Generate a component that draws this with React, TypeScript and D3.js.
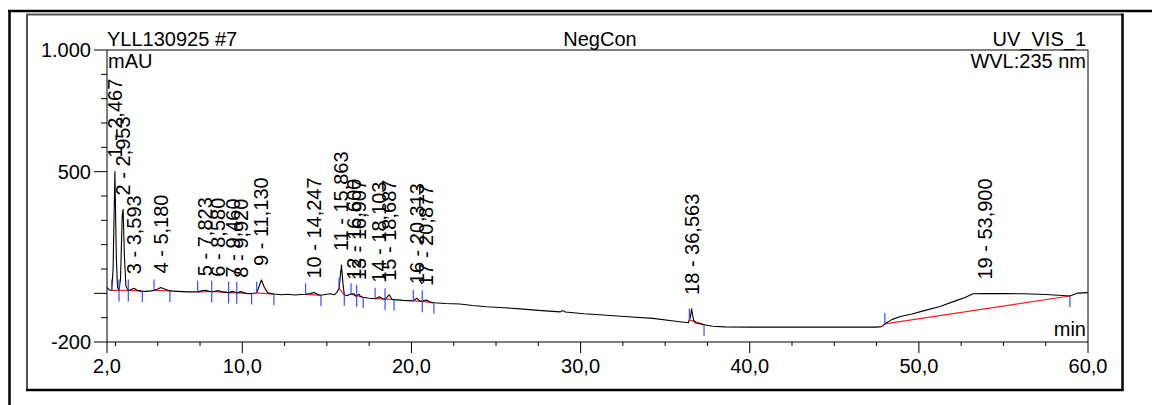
import React from 'react';
import * as d3 from 'd3';

// ---- chromatogram trace (time in min, signal in mAU) ----
const traceTimes = [
  2.0, 2.05, 2.15, 2.28, 2.36, 2.467, 2.55, 2.62, 2.71, 2.8, 2.9, 2.953, 3.03, 3.12, 3.26,
  3.45, 3.593, 3.75, 4.0, 4.3, 4.6, 4.78, 5.0, 5.18, 5.4, 5.72, 6.2, 6.8, 7.36, 7.6, 7.823,
  8.05, 8.3, 8.58, 8.85, 9.19, 9.46, 9.67, 9.92, 10.2, 10.55, 10.85, 11.0, 11.13, 11.3, 11.5,
  11.87, 12.3, 12.7, 13.1, 13.5, 13.74, 14.0, 14.247, 14.5, 14.65, 14.9, 15.2, 15.45, 15.6,
  15.72, 15.863, 15.95, 16.03, 16.2, 16.35, 16.6, 16.7, 16.907, 17.0, 17.15, 17.5, 17.85,
  18.103, 18.3, 18.44, 18.687, 18.85, 18.97, 19.5, 20.11, 20.313, 20.5, 20.64, 20.877, 21.1,
  21.33, 22.0, 22.87, 23.6, 24.45, 25.5, 26.42, 27.5, 28.8, 28.96, 29.1, 30.2, 31.33, 32.8,
  34.28, 35.5, 36.37, 36.5, 36.563, 36.68, 36.8, 37.25, 37.8, 38.5, 40.0, 44.0, 47.5, 47.8,
  48.0, 48.4, 48.9, 49.6, 50.26, 51.25, 52.2, 52.7, 53.2, 53.9, 55.0, 56.2, 57.5, 58.5, 58.93,
  59.4, 60.0,
];
const traceValues = [
  25, 20, 14, 12, 100, 500, 150, 25, 12, 60, 320, 345, 150, 30, 12,
  16, 21, 14, 9, 8, 10, 12, 18, 24, 18, 10, 8, 6, 6, 10, 13,
  8, 7, 11, 6, 3, 8, 2, 7, 0, -1, 2, 30, 55, 25, 2,
  -3, -6, -4, -7, -5, -4, -1, 3, -6, -8, -5, -2, -6, 5,
  20, 116, 40, -6, -10, -4, -2, -12, -4, -14, -16, -20, -22,
  -14, -22, -24, -6, -24, -26, -29, -31, -20, -32, -33, -27, -36,
  -39, -42, -44, -50, -55, -59, -64, -70, -76, -71, -77, -84, -89, -96,
  -103, -114, -121, -95, -64, -110, -122, -128, -135, -138, -139, -139, -139, -137,
  -125, -108, -95, -85, -72, -54, -30, -18, -2, -1, -1, -2, -5, -9, -11,
  1, 3,
];

// ---- integrated peaks ----
const peakNumbers = [1, 2, 3, 4, 5, 6, 7, 8, 9, 10, 11, 12, 13, 14, 15, 16, 17, 18, 19];
const peakRetention = [
  '2,467', '2,953', '3,593', '5,180', '7,823', '8,580', '9,460', '9,920', '11,130', '14,247',
  '15,863', '16,600', '16,907', '18,103', '18,687', '20,313', '20,877', '36,563', '53,900',
];
const peakTimes = [
  2.467, 2.953, 3.593, 5.18, 7.823, 8.58, 9.46, 9.92, 11.13, 14.247,
  15.863, 16.6, 16.907, 18.103, 18.687, 20.313, 20.877, 36.563, 53.9,
];
const peakStarts = [
  2.28, 2.71, 3.26, 4.78, 7.36, 8.19, 9.19, 9.67, 10.85, 13.74,
  15.72, 16.43, 16.76, 17.85, 18.44, 20.11, 20.64, 36.43, 47.99,
];
const peakEnds = [
  2.71, 3.26, 4.09, 5.72, 8.19, 9.19, 9.67, 10.55, 11.87, 14.65,
  16.03, 16.76, 17.15, 18.44, 18.97, 20.64, 21.33, 37.3, 58.93,
];

// ---- axes ----
const xMajorTicks = [2, 10, 20, 30, 40, 50, 60];
const xTickLabels = ['2,0', '10,0', '20,0', '30,0', '40,0', '50,0', '60,0'];
const xMinorTicks = [
  2.5, 5, 7.5, 12.5, 15, 17.5, 22.5, 25, 27.5, 32.5, 35, 37.5, 42.5, 45, 47.5, 52.5, 55, 57.5,
];
const yMajorTicks = [1000, 500, 0, -200];
const yLabelValues = [1000, 500, -200];
const yTickLabels = ['1.000', '500', '-200'];
const yMinorTicks = [900, 800, 700, 600, 400, 300, 200, 100, -100];

const headerLeft = 'YLL130925 #7';
const headerCenter = 'NegCon';
const headerRight = 'UV_VIS_1';
const unitY = 'mAU';
const wavelength = 'WVL:235 nm';
const unitX = 'min';

const FONT = '"Liberation Sans", Arial, sans-serif';

function valueAt(t: number): number {
  const i = d3.bisectLeft(traceTimes, t);
  if (i <= 0) return traceValues[0];
  if (i >= traceTimes.length) return traceValues[traceValues.length - 1];
  const t0 = traceTimes[i - 1];
  const t1 = traceTimes[i];
  return traceValues[i - 1] + ((traceValues[i] - traceValues[i - 1]) * (t - t0)) / (t1 - t0);
}

function maxIn(a: number, b: number): number {
  let m = Math.max(valueAt(a), valueAt(b));
  traceTimes.forEach((t, i) => {
    if (t >= a && t <= b) m = Math.max(m, traceValues[i]);
  });
  return m;
}

export default function App() {
  const W = 1152;
  const H = 405;
  const left = 107;
  const right = 1088;
  const top = 50;
  const bottom = 342;
  const x = d3.scaleLinear().domain([2, 60]).range([left, right]);
  const y = d3.scaleLinear().domain([-200, 1000]).range([bottom, top]);

  const line = d3
    .line<number>()
    .x((_, i) => x(traceTimes[i]))
    .y((v) => y(v));
  const tracePath = line(traceValues) || '';

  const blue = '#3a4cff';
  const red = '#ff2020';

  return (
    <svg
      width={W}
      height={H}
      viewBox={`0 0 ${W} ${H}`}
      style={{ position: 'absolute', left: 0, top: 0, background: '#fff' }}
      fontFamily={FONT}
    >
      <rect x={0} y={0} width={W} height={H} fill="#fff" />
      {/* outer frame */}
      <line x1={8} y1={11} x2={W} y2={11} stroke="#000" strokeWidth={2.5} />
      <line x1={9.5} y1={10} x2={9.5} y2={H} stroke="#000" strokeWidth={2.5} />
      {/* inner frame */}
      <line x1={26} y1={14.5} x2={1122.5} y2={14.5} stroke="#555" strokeWidth={2} />
      <line x1={27} y1={14} x2={27} y2={390} stroke="#555" strokeWidth={2} />
      <line x1={1122.5} y1={13.5} x2={1122.5} y2={391} stroke="#000" strokeWidth={2.5} />
      <line x1={26} y1={390} x2={1123.5} y2={390} stroke="#000" strokeWidth={2.5} />

      {/* plot box */}
      <line x1={left} y1={top} x2={right} y2={top} stroke="#000" strokeWidth={1} />
      <line x1={right} y1={top} x2={right} y2={bottom} stroke="#000" strokeWidth={1} />
      <line x1={left} y1={top} x2={left} y2={bottom} stroke="#000" strokeWidth={1} />
      <line x1={left} y1={bottom} x2={right} y2={bottom} stroke="#000" strokeWidth={1} />

      {/* y ticks */}
      {yMajorTicks.map((v) => (
        <line key={'ym' + v} x1={left - 13} x2={left} y1={y(v)} y2={y(v)} stroke="#000" strokeWidth={1} />
      ))}
      {yMinorTicks.map((v) => (
        <line key={'yn' + v} x1={left - 6} x2={left} y1={y(v)} y2={y(v)} stroke="#000" strokeWidth={1} />
      ))}
      {yLabelValues.map((v, i) => (
        <text key={'yl' + v} x={91} y={y(v) + 7} fontSize={20} textAnchor="end" fill="#000">
          {yTickLabels[i]}
        </text>
      ))}

      {/* x ticks */}
      {xMajorTicks.map((t) => (
        <line key={'xm' + t} x1={x(t)} x2={x(t)} y1={bottom} y2={bottom + 11} stroke="#000" strokeWidth={1} />
      ))}
      {xMinorTicks.map((t) => (
        <line key={'xn' + t} x1={x(t)} x2={x(t)} y1={bottom} y2={bottom + 4} stroke="#000" strokeWidth={1} />
      ))}
      {xMajorTicks.map((t, i) => (
        <text key={'xl' + t} x={x(t)} y={373} fontSize={20} textAnchor="middle" fill="#000">
          {xTickLabels[i]}
        </text>
      ))}

      {/* headers */}
      <text x={left} y={46} fontSize={20}>{headerLeft}</text>
      <text x={600} y={46} fontSize={20} textAnchor="middle">{headerCenter}</text>
      <text x={1086} y={46} fontSize={20} textAnchor="end">{headerRight}</text>
      <text x={left + 1} y={68} fontSize={20}>{unitY}</text>
      <text x={1086} y={68} fontSize={20} textAnchor="end">{wavelength}</text>
      <text x={1086} y={336} fontSize={20} textAnchor="end">{unitX}</text>

      {/* baselines */}
      {peakNumbers.map((n, i) => (
        <line
          key={'bl' + n}
          x1={x(peakStarts[i])}
          y1={y(valueAt(peakStarts[i]))}
          x2={x(peakEnds[i])}
          y2={y(valueAt(peakEnds[i]))}
          stroke={red}
          strokeWidth={1.2}
        />
      ))}

      {/* trace */}
      <path d={tracePath} fill="none" stroke="#000" strokeWidth={1.1} strokeLinejoin="round" />

      {/* peak delimiters */}
      {peakNumbers.map((n, i) => {
        const xs = x(peakStarts[i]);
        const ys = y(valueAt(peakStarts[i]));
        const xe = x(peakEnds[i]);
        const ye = y(valueAt(peakEnds[i]));
        return (
          <g key={'pd' + n}>
            <line x1={xs} x2={xs} y1={ys} y2={ys - 11} stroke={blue} strokeWidth={1.2} />
            <line x1={xe} x2={xe} y1={ye} y2={ye + 11} stroke={blue} strokeWidth={1.2} />
          </g>
        );
      })}

      {/* peak labels */}
      {peakNumbers.map((n, i) => {
        const px = x(peakTimes[i]);
        const py = y(maxIn(peakStarts[i], peakEnds[i])) - 14;
        return (
          <text
            key={'lab' + n}
            transform={`translate(${px + 7},${py}) rotate(-90)`}
            fontSize={20}
            fill="#000"
          >
            {`${n} - ${peakRetention[i]}`}
          </text>
        );
      })}
    </svg>
  );
}
